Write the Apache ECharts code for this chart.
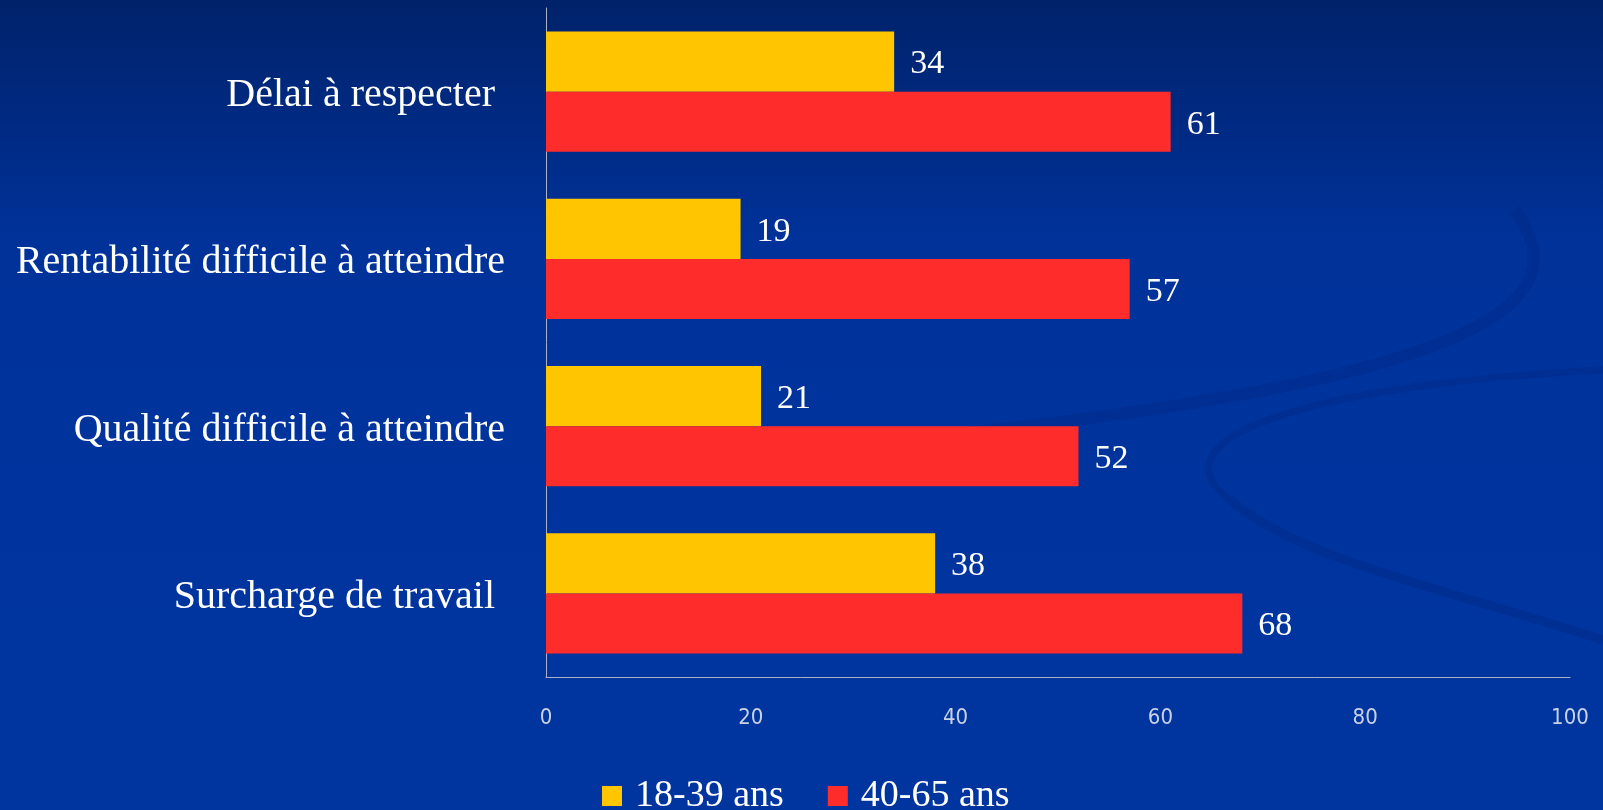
<!DOCTYPE html>
<html>
<head>
<meta charset="utf-8">
<title>Contraintes ressenties par âge</title>
<script src="https://cdn.jsdelivr.net/npm/echarts@6/dist/echarts.min.js"></script>
<style>
html, body { margin: 0; padding: 0; }
#chart { width: 1603px; height: 810px; }
</style>
</head>
<body>
<div id="chart"></div>
<script>
// categories, top to bottom
var categories = ['Délai à respecter ', 'Rentabilité difficile à atteindre', 'Qualité difficile à atteindre', 'Surcharge de travail '];
var seriesNames = ['18-39 ans', '40-65 ans'];
var values1839 = [34, 19, 21, 38];
var values4065 = [61, 57, 52, 68];
var xTicks = [0, 20, 40, 60, 80, 100];

var serif = "'Liberation Serif', 'DejaVu Serif', serif";

function barSeries(name, data, color) {
	return {
		name: name,
		type: 'bar',
		data: data,
		barGap: '0%',
		barCategoryGap: '28%',
		itemStyle: { color: color },
		label: {
			show: true,
			position: 'right',
			distance: 16,
			offset: [0, 3],
			color: '#ffffff',
			fontFamily: serif,
			fontSize: 34
		}
	};
}

var chart = echarts.init(document.getElementById('chart'));

var swoosh = 'rgba(0, 36, 125, 0.3)';

var option = {
	backgroundColor: {
		type: 'linear', x: 0, y: 0, x2: 0, y2: 1,
		colorStops: [
			{ offset: 0, color: '#00226a' },
			{ offset: 0.3, color: '#00329a' },
			{ offset: 1, color: '#0035a0' }
		]
	},
	animation: false,
	graphic: [
		// faint swooshes of the slide background
		{ type: 'bezierCurve', silent: true, z: -1,
			shape: { x1: 1515, y1: 210, cpx1: 1580, cpy1: 300, cpx2: 1500, cpy2: 380, x2: 900, y2: 440 },
			style: { stroke: swoosh, lineWidth: 12, fill: null } },
		{ type: 'bezierCurve', silent: true, z: -1,
			shape: { x1: 1603, y1: 370, cpx1: 1300, cpy1: 385, cpx2: 1150, cpy2: 440, x2: 1230, y2: 500 },
			style: { stroke: swoosh, lineWidth: 7, fill: null } },
		{ type: 'bezierCurve', silent: true, z: -1,
			shape: { x1: 1230, y1: 500, cpx1: 1300, cpy1: 560, cpx2: 1450, cpy2: 590, x2: 1603, y2: 640 },
			style: { stroke: swoosh, lineWidth: 9, fill: null } }
	],
	legend: {
		data: seriesNames,
		left: 597,
		top: 772,
		icon: 'rect',
		itemWidth: 20,
		itemHeight: 20,
		itemGap: 44,
		textStyle: {
			color: '#ffffff',
			fontFamily: serif,
			fontSize: 38,
			padding: [0, 0, 0, 8]
		}
	},
	grid: {
		left: 546,
		right: 33,
		top: 8,
		bottom: 133
	},
	xAxis: {
		type: 'value',
		min: xTicks[0],
		max: xTicks[xTicks.length - 1],
		interval: xTicks[1] - xTicks[0],
		splitLine: { show: false },
		axisTick: { show: false },
		axisLine: { show: true, lineStyle: { color: '#aab3c6', width: 1 } },
		axisLabel: {
			margin: 30,
			color: '#c9d1e3',
			fontFamily: "'Liberation Sans Narrow', 'DejaVu Sans Condensed', 'Liberation Sans', sans-serif",
			fontSize: 22
		}
	},
	yAxis: {
		type: 'category',
		data: categories,
		inverse: true,
		axisTick: { show: false },
		axisLine: { show: true, lineStyle: { color: '#aab3c6', width: 1 } },
		axisLabel: {
			margin: 41,
			formatter: function (v) { return '{c|' + v + '}'; },
			rich: {
				c: {
					color: '#ffffff',
					fontFamily: serif,
					fontSize: 40,
					padding: [8, 0, 0, 0]
				}
			}
		}
	},
	series: [
		barSeries(seriesNames[0], values1839, '#ffc600'),
		barSeries(seriesNames[1], values4065, '#ff2c2c')
	]
};

chart.setOption(option);
</script>
</body>
</html>
